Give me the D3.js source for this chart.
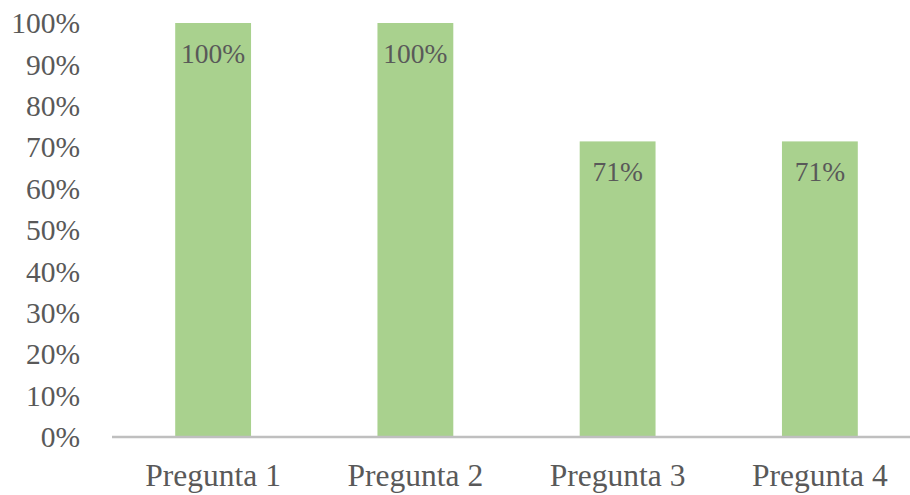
<!DOCTYPE html>
<html><head><meta charset="utf-8">
<script src="https://cdn.jsdelivr.net/npm/d3@7"></script>
<style>body{margin:0;background:#fff}svg{display:block}</style>
</head><body>
<svg id="c" width="910" height="495"></svg>
<script>
const categories = ["Pregunta 1","Pregunta 2","Pregunta 3","Pregunta 4"];
const values = [1.00, 1.00, 0.714, 0.714];
const dataLabels = ["100%","100%","71%","71%"];
const yTicks = [0,0.1,0.2,0.3,0.4,0.5,0.6,0.7,0.8,0.9,1.0];

const svg = d3.select("#c");
const font = "'Liberation Serif','Times New Roman',serif";
const x = d3.scaleBand().domain(categories).range([112, 921]).paddingInner(0.625).paddingOuter(0.3125);
const y = d3.scaleLinear().domain([0,1]).range([437, 23]);

svg.selectAll("rect.bar").data(values).enter().append("rect")
  .attr("class","bar")
  .attr("x",(d,i)=>x(categories[i]))
  .attr("width",x.bandwidth())
  .attr("y",d=>y(d))
  .attr("height",d=>y(0)-y(d))
  .attr("fill","#a9d18e");

svg.append("line").attr("x1",112).attr("x2",910).attr("y1",y(0)).attr("y2",y(0))
  .attr("stroke","#bfbfbf").attr("stroke-width",2.5);

const yAxis = d3.axisLeft(y).tickValues(yTicks).tickFormat(d3.format(".0%")).tickSize(0).tickPadding(0);
const gy = svg.append("g").attr("transform","translate(80,0)").call(yAxis);
gy.select(".domain").remove();
gy.selectAll("text").attr("font-family",font).attr("font-size",29.5).attr("fill","#595959").attr("dy","0.33em");

const xAxis = d3.axisBottom(x).tickSize(0).tickPadding(0);
const gx = svg.append("g").attr("transform","translate(0,486)").call(xAxis);
gx.select(".domain").remove();
gx.selectAll("text").attr("font-family",font).attr("font-size",31.5).attr("fill","#595959").attr("dy","0");

svg.selectAll("text.lbl").data(values).enter().append("text")
  .attr("class","lbl")
  .attr("x",(d,i)=>x(categories[i])+x.bandwidth()/2)
  .attr("y",d=>y(d)+40)
  .attr("text-anchor","middle")
  .attr("font-family",font).attr("font-size",27.5).attr("fill","#595959")
  .text((d,i)=>dataLabels[i]);
</script>
</body></html>
